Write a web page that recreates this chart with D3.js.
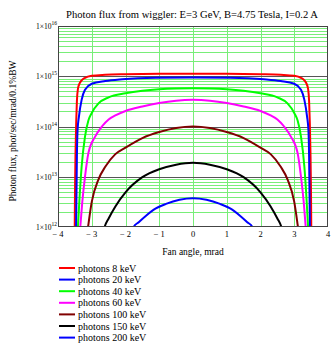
<!DOCTYPE html>
<html><head><meta charset="utf-8">
<script src="https://cdn.jsdelivr.net/npm/d3@7"></script>
<style>body{margin:0;background:#fff;} svg{display:block;} text{font-family:'Liberation Serif','DejaVu Serif',serif;}</style>
</head><body>
<svg id="c" width="331" height="344"></svg>
<script>
const title = "Photon flux from wiggler: E=3 GeV, B=4.75 Tesla, I=0.2 A";
const xLabel = "Fan angle, mrad";
const yLabel = "Photon flux, phot/sec/mrad/0.1%BW";
const xTicks = [-4, -3, -2, -1, 0, 1, 2, 3, 4];
const yDecades = [1e12, 1e13, 1e14, 1e15, 1e16];
const yDecadeExp = ["12", "13", "14", "15", "16"];
const seriesNames = ["photons 8 keV","photons 20 keV","photons 40 keV","photons 60 keV","photons 100 keV","photons 150 keV","photons 200 keV"];
const seriesColors = ["#ff0000","#0000ff","#00ff00","#ff00ff","#800000","#000000","#0000ff"];

const angle8 = [-3.505,-3.495,-3.48,-3.46,-3.44,-3.41,-3.36,-3.3,-3.2,-3.0,-2.6,-2,-1,0,1,2,2.6,3.0,3.2,3.3,3.36,3.41,3.44,3.46,3.48,3.495,3.505];
const flux8 = [9e11,6.3e12,3.2e13,1.26e14,3.2e14,5.6e14,7.2e14,8.3e14,9.3e14,1.02e15,1.07e15,1.10e15,1.12e15,1.12e15,1.12e15,1.10e15,1.07e15,1.02e15,9.3e14,8.3e14,7.2e14,5.6e14,3.2e14,1.26e14,3.2e13,6.3e12,9e11];

const angle20 = [-3.465,-3.45,-3.44,-3.42,-3.38,-3.3,-3.2,-3.0,-2.6,-2.1,-1.1,0,1.1,2.1,2.6,3.0,3.2,3.3,3.38,3.42,3.44,3.45,3.465];
const flux20 = [9e11,6.3e12,2.5e13,8.5e13,1.58e14,3.39e14,5.37e14,7.08e14,8.04e14,8.71e14,9.33e14,9.44e14,9.33e14,8.71e14,8.04e14,7.08e14,5.37e14,3.39e14,1.58e14,8.5e13,2.5e13,6.3e12,9e11];

const angle40 = [-3.43,-3.41,-3.36,-3.3,-3.2,-3.1,-3.0,-2.8,-2.5,-2.0,-1.5,-1.0,-0.5,0,0.5,1.0,1.5,2.0,2.5,2.8,3.0,3.1,3.2,3.3,3.36,3.41,3.43];
const flux40 = [6e11,1e12,4e12,1.58e13,6.3e13,1.32e14,1.86e14,2.88e14,3.8e14,4.57e14,5.13e14,5.5e14,5.69e14,5.75e14,5.69e14,5.5e14,5.13e14,4.57e14,3.8e14,2.88e14,1.86e14,1.32e14,6.3e13,1.58e13,4e12,1e12,6e11];

const angle60 = [-3.37,-3.34,-3.28,-3.2,-3.1,-2.9,-2.7,-2.5,-2.3,-2.0,-1.5,-1.0,-0.5,0,0.5,1.0,1.5,2.0,2.3,2.5,2.7,2.9,3.1,3.2,3.28,3.34,3.37];
const flux60 = [6e11,1e12,3.16e12,1e13,2.95e13,6.3e13,1e14,1.38e14,1.66e14,2.04e14,2.51e14,2.95e14,3.27e14,3.39e14,3.27e14,2.95e14,2.51e14,2.04e14,1.66e14,1.38e14,1e14,6.3e13,2.95e13,1e13,3.16e12,1e12,6e11];

const angle100 = [-3.13,-3.1,-3.0,-2.8,-2.6,-2.3,-2.0,-1.5,-1.0,-0.5,0,0.5,1.0,1.5,2.0,2.3,2.6,2.8,3.0,3.1,3.13];
const flux100 = [8e11,1.12e12,3.16e12,8.9e12,1.58e13,2.82e13,3.8e13,5.89e13,7.76e13,9.33e13,1.0e14,9.33e13,7.76e13,5.89e13,3.8e13,2.82e13,1.58e13,8.9e12,3.16e12,1.12e12,8e11];

const angle150 = [-2.66,-2.62,-2.5,-2.3,-2.0,-1.5,-1.0,-0.5,0,0.5,1.0,1.5,2.0,2.3,2.5,2.62,2.66];
const flux150 = [8e11,1e12,1.48e12,2.57e12,4.9e12,9.8e12,1.41e13,1.74e13,1.9e13,1.74e13,1.41e13,9.8e12,4.9e12,2.57e12,1.48e12,1e12,8e11];

const angle200 = [-1.82,-1.76,-1.6,-1.4,-1.1,-0.8,-0.4,0,0.4,0.8,1.1,1.4,1.6,1.76,1.82];
const flux200 = [8e11,1e12,1.26e12,1.66e12,2.34e12,2.88e12,3.47e12,3.72e12,3.47e12,2.88e12,2.34e12,1.66e12,1.26e12,1e12,8e11];

const angles = [angle8, angle20, angle40, angle60, angle100, angle150, angle200];
const fluxes = [flux8, flux20, flux40, flux60, flux100, flux150, flux200];

const FONT = "'Liberation Serif','DejaVu Serif',serif";
const L = 58, R = 328, T = 26, B = 227;
const svg = d3.select("#c");
const x = d3.scaleLinear().domain([-4, 4]).range([L, R]);
const y = d3.scaleLog().domain([1e12, 1e16]).range([B, T]);

// title
svg.append("text").attr("x", 192).attr("y", 18).attr("text-anchor", "middle").attr("font-family", FONT)
  .attr("font-size", 10.6).attr("fill", "#000").text(title);

// minor horizontal grid
const minor = [];
yDecades.slice(0, -1).forEach(d => { for (let k = 2; k <= 9; k++) minor.push(d * k); });
const grid = svg.append("g");
grid.selectAll("line.mh").data(minor).join("line")
  .attr("x1", L).attr("x2", R).attr("y1", d => Math.round(y(d)) + 0.5).attr("y2", d => Math.round(y(d)) + 0.5)
  .attr("stroke", "#78ee78").attr("stroke-width", 1);
grid.selectAll("line.v").data(xTicks.slice(1, -1)).join("line")
  .attr("y1", T).attr("y2", B).attr("x1", d => Math.round(x(d)) + 0.5).attr("x2", d => Math.round(x(d)) + 0.5)
  .attr("stroke", "#78ee78").attr("stroke-width", 1);
grid.selectAll("line.d").data(yDecades.slice(1, -1)).join("line")
  .attr("x1", L).attr("x2", R).attr("y1", d => Math.round(y(d)) + 0.5).attr("y2", d => Math.round(y(d)) + 0.5)
  .attr("stroke", "#555").attr("stroke-width", 1);

// curves
svg.append("clipPath").attr("id", "cp").append("rect").attr("x", L).attr("y", T).attr("width", R - L).attr("height", B - T);
const line = d3.line().x(d => x(d[0])).y(d => y(d[1])).curve(d3.curveMonotoneX);
const cg = svg.append("g").attr("clip-path", "url(#cp)");
seriesNames.forEach((n, i) => {
  const pts = d3.zip(angles[i], fluxes[i]);
  cg.append("path").attr("d", line(pts)).attr("fill", "none")
    .attr("stroke", seriesColors[i]).attr("stroke-width", 2);
});

// border
svg.append("rect").attr("x", L + 0.5).attr("y", T + 0.5).attr("width", R - L - 1).attr("height", B - T - 1)
  .attr("fill", "none").attr("stroke", "#444").attr("stroke-width", 1);

// x tick labels
svg.selectAll("text.xt").data(xTicks).join("text")
  .attr("x", d => x(d)).attr("y", 237).attr("text-anchor", "middle").attr("font-size", 8.5).attr("font-family", FONT)
  .text(d => d < 0 ? "\u2212 " + Math.abs(d) : String(d));

// y tick labels
yDecades.forEach((d, i) => {
  const t = svg.append("text").attr("x", 57).attr("y", y(d) + 3).attr("text-anchor", "end")
    .attr("font-size", 7.5).attr("font-family", FONT);
  t.append("tspan").text("1\u00d710");
  t.append("tspan").attr("dy", -4).attr("font-size", 5.5).text(yDecadeExp[i]);
});

// axis titles
svg.append("text").attr("x", 193).attr("y", 255).attr("text-anchor", "middle").attr("font-family", FONT)
  .attr("font-size", 9.5).text(xLabel);
svg.append("text").attr("transform", "translate(16,131) rotate(-90)").attr("text-anchor", "middle")
  .attr("font-family", FONT).attr("font-size", 9.5).text(yLabel);

// legend
const lg = svg.append("g");
seriesNames.forEach((n, i) => {
  const cy = 268 + i * 11.6;
  lg.append("line").attr("x1", 59).attr("x2", 75).attr("y1", cy).attr("y2", cy)
    .attr("stroke", seriesColors[i]).attr("stroke-width", 2);
  lg.append("text").attr("x", 78).attr("y", cy + 3.5).attr("font-family", FONT).attr("font-size", 10).text(n);
});
</script>
</body></html>
